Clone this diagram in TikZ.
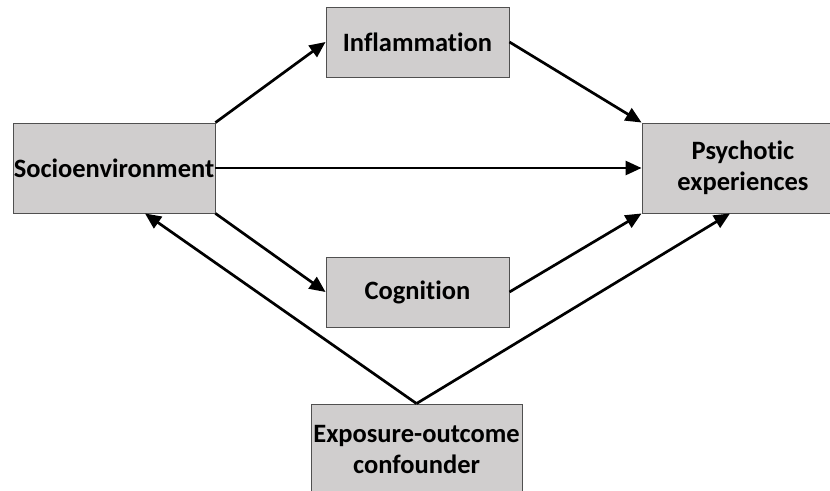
\documentclass[tikz,border=0pt]{standalone}
\usepackage{fontspec}
\setmainfont{Carlito}[Ligatures={NoCommon}]
\usetikzlibrary{positioning,arrows.meta}
\definecolor{boxgray}{HTML}{D0CECE}
\definecolor{edgegray}{HTML}{505050}

\begin{document}
\begin{tikzpicture}[x=1pt, y=-1pt,
        box/.style={draw=edgegray, line width=0.9pt, fill=boxgray, align=center, inner sep=0pt,
          font=\bfseries\fontsize{26.5}{31}\selectfont},
        arr/.style={-{Triangle[length=16pt, width=14pt]}, line width=2.7pt}]
      \useasboundingbox (0,0) rectangle (830,490);
      \node[box, minimum width=183pt, minimum height=70pt] (infl) at (417.5,42) {Inflammation};
      \node[box, minimum width=202pt, minimum height=90pt] (socio) at (114,168) {Socioenvironment};
      \node[box, minimum width=202pt, minimum height=90pt] (psych) at (743,168) {Psychotic\\experiences};
      \node[box, minimum width=183pt, minimum height=70pt] (cog) at (417.5,292) {Cognition};
      \node[box, minimum width=211pt, minimum height=90pt] (conf) at (416.5,449) {Exposure-outcome\\confounder};
      \draw[arr] (socio.north east) -- (infl.west);
      \draw[arr] (infl.east) -- (psych.north west);
      \draw[arr] (socio.east) -- (psych.west);
      \draw[arr] (socio.south east) -- (cog.west);
      \draw[arr] (cog.east) -- (psych.south west);
      \draw[arr] (conf.north) -- ([xshift=31pt]socio.south);
      \draw[arr] (conf.north) -- ([xshift=-13pt]psych.south);
\end{tikzpicture}
\end{document}
